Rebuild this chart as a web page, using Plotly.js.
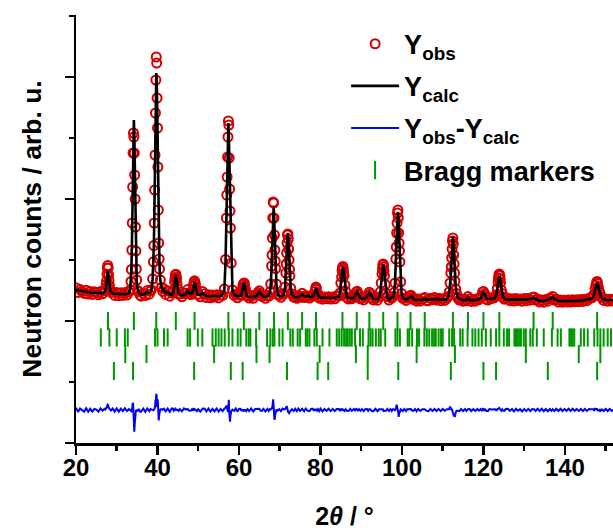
<!DOCTYPE html>
<html>
<head>
<meta charset="utf-8">
<script src="https://cdn.plot.ly/plotly-3.0.1.min.js"></script>
<style>
  html, body { margin: 0; padding: 0; background: #ffffff; }
  #chart { width: 613px; height: 530px; }
</style>
</head>
<body>
<div id="chart"></div>
<script>
// Scattering angle 2θ (degrees); finer steps across the reflections
const twoTheta = [
  20, 20.5, 21, 21.5, 22, 22.5, 23, 23.5, 24, 24.5, 25, 25.5, 26, 26.5,
  27.0, 27.2, 27.4, 27.5, 27.6, 27.7, 27.8, 27.9, 28.0, 28.1, 28.2, 28.4, 28.6,
  29.0, 29.5, 30.0, 30.5, 31.0, 31.5, 32.0, 32.5,
  33.0, 33.3, 33.5, 33.6, 33.7, 33.8, 33.9, 34.0, 34.1, 34.2, 34.3, 34.4, 34.5, 34.6, 34.7, 34.8, 34.9, 35.1, 35.4, 35.7,
  36.0, 36.5, 37.0, 37.5, 38.0, 38.3,
  38.5, 38.8, 39.0, 39.1, 39.2, 39.3, 39.4, 39.5, 39.6, 39.7, 39.8, 39.9, 40.0, 40.1, 40.2, 40.3, 40.4, 40.5, 40.7, 41.0, 41.3,
  41.6, 42.0, 42.5, 43.0, 43.5,
  43.8, 44.0, 44.2, 44.3, 44.4, 44.5, 44.6, 44.7, 44.8, 45.0, 45.2, 45.5,
  46.0, 46.5, 47.0, 47.4, 47.8, 48.2,
  48.5, 48.7, 48.8, 48.9, 49.0, 49.1, 49.2, 49.3, 49.4, 49.5, 49.7, 50.0,
  50.5, 51.1, 51.6, 52.0, 52.5, 53.0, 53.5, 54.0, 54.5, 55.0, 55.5, 56.0,
  56.4, 56.7, 56.9, 57.0, 57.1, 57.2, 57.3, 57.4, 57.5, 57.6, 57.7, 57.8, 57.9, 58.1, 58.4, 58.8,
  59.2, 59.6, 60.0,
  60.4, 60.6, 60.8, 60.9, 61.0, 61.1, 61.2, 61.3, 61.4, 61.5, 61.6, 61.8, 62.1,
  62.5, 63.0, 63.5, 64.0,
  64.4, 64.7, 65.0, 65.3, 65.6,
  66.0, 66.5, 67.0, 67.3,
  67.6, 67.8, 68.0, 68.1, 68.2, 68.3, 68.4, 68.5, 68.6, 68.7, 68.8, 68.9, 69.0, 69.2, 69.5, 69.9,
  70.3, 70.7,
  71.0, 71.3, 71.5, 71.6, 71.7, 71.8, 71.9, 72.0, 72.1, 72.2, 72.3, 72.4, 72.5, 72.7, 73.0, 73.4,
  73.8, 74.2, 74.6, 75.0, 75.5, 76.0, 76.4, 76.9, 77.3, 77.7,
  78.1, 78.4, 78.6, 78.8, 78.9, 79.0, 79.2, 79.4, 79.7,
  80.0, 80.5, 81.0, 81.5, 82.0, 82.5, 83.0, 83.5, 84.0,
  84.5, 84.8, 85.0, 85.2, 85.3, 85.4, 85.5, 85.6, 85.7, 85.8, 86.0, 86.2, 86.5,
  86.9, 87.3, 87.7,
  88.2, 88.5, 88.8, 89.0, 89.2, 89.5, 89.8,
  90.2, 90.6, 91.0,
  91.4, 91.7, 92.0, 92.3, 92.6,
  93.0, 93.5, 94.0, 94.4,
  94.7, 94.9, 95.1, 95.2, 95.3, 95.4, 95.5, 95.6, 95.7, 95.9, 96.1, 96.4,
  96.8, 97.2, 97.5,
  97.8, 98.1, 98.3, 98.5, 98.6, 98.7, 98.8, 98.9, 99.0, 99.1, 99.2, 99.3, 99.4, 99.5, 99.7, 99.9, 100.2,
  100.6, 101.0, 101.3,
  101.6, 101.9, 102.2, 102.5, 102.8,
  103.2, 103.6, 104.0, 104.5, 105.0,
  105.6, 106.1,
  106.5, 107.0, 107.5, 108.0, 108.5, 109.0, 109.5, 110.0, 110.5, 111.0,
  111.3, 111.6, 111.8, 112.0, 112.1, 112.2, 112.3, 112.4, 112.5, 112.6, 112.7, 112.8, 112.9, 113.0, 113.2, 113.4, 113.7, 114.1,
  114.5, 115.0, 115.5, 115.8, 116.2, 116.6, 117.0, 117.5, 118.0, 118.5, 118.9,
  119.3, 119.6, 119.8, 120.0, 120.2, 120.4, 120.7,
  121.1, 121.5, 122.0, 122.4,
  122.7, 123.0, 123.2, 123.4, 123.6, 123.7, 123.8, 123.9, 124.0, 124.1, 124.2, 124.4, 124.6, 124.8, 125.1, 125.5,
  126.0, 126.5, 127.0, 127.5, 128.0, 128.5, 129.0, 129.5, 130.0, 130.5, 131.0, 131.5, 132.0, 132.4, 132.8, 133.3, 133.8, 134.3, 134.8, 135.3, 135.8, 136.3, 136.7, 137.0, 137.4, 137.9, 138.4, 138.9, 139.4, 139.9, 140.4, 140.9, 141.4, 141.9, 142.4, 142.9, 143.4, 143.9, 144.4, 144.9, 145.4, 145.9, 146.3,
  146.7, 147.0, 147.2, 147.4, 147.6, 147.8, 147.9, 148.0, 148.2, 148.4, 148.6, 148.8, 149.1, 149.5,
  150.0, 150.5, 151.0, 151.5, 152.0
];

// Calculated profile (arb. u.)
const yCalc = [
  1530, 1525, 1520, 1516, 1513, 1510, 1507, 1504, 1502, 1501, 1500, 1499, 1498, 1499,
  1511, 1525, 1569, 1609, 1657, 1701, 1721, 1701, 1657, 1609, 1569, 1525, 1511,
  1494, 1492, 1490, 1489, 1488, 1487, 1487, 1491,
  1502, 1537, 1625, 1747, 1921, 2183, 2497, 2829, 3117, 3230, 3117, 2829, 2497, 2183, 1921, 1747, 1625, 1537, 1502, 1493,
  1484, 1483, 1492, 1510, 1500, 1510,
  1525, 1636, 1815, 1970, 2194, 2506, 2863, 3197, 3532, 3699, 3654, 3420, 3041, 2684, 2350, 2104, 1904, 1770, 1625, 1547, 1513,
  1529, 1499, 1508, 1486, 1482,
  1499, 1532, 1597, 1633, 1667, 1680, 1667, 1633, 1597, 1532, 1499, 1485,
  1475, 1478, 1494, 1524, 1500, 1490,
  1496, 1529, 1555, 1580, 1603, 1612, 1603, 1580, 1555, 1529, 1496, 1480,
  1478, 1500, 1480, 1470, 1468, 1467, 1470, 1474, 1468, 1466, 1470, 1487,
  1526, 1812, 2211, 2437, 2645, 2870, 3079, 3200, 3079, 2870, 2645, 2437, 2211, 1812, 1526, 1484,
  1472, 1468, 1470,
  1470, 1486, 1525, 1550, 1574, 1594, 1602, 1594, 1574, 1550, 1525, 1486, 1464,
  1460, 1460, 1462, 1468,
  1472, 1495, 1510, 1495, 1475,
  1462, 1462, 1468, 1475,
  1503, 1584, 1755, 1863, 2016, 2178, 2304, 2358, 2304, 2178, 2016, 1863, 1755, 1584, 1490, 1470,
  1468, 1478,
  1482, 1553, 1682, 1759, 1862, 1972, 2062, 2101, 2062, 1972, 1862, 1759, 1682, 1553, 1482, 1470,
  1458, 1458, 1460, 1470, 1485, 1468, 1462, 1475, 1462, 1462,
  1458, 1480, 1505, 1543, 1550, 1543, 1505, 1480, 1458,
  1452, 1452, 1451, 1452, 1451, 1450, 1450, 1452, 1460,
  1461, 1508, 1587, 1666, 1710, 1747, 1760, 1747, 1710, 1666, 1587, 1508, 1461,
  1450, 1448, 1452,
  1450, 1470, 1500, 1512, 1500, 1470, 1450,
  1442, 1442, 1448,
  1462, 1485, 1499, 1485, 1460,
  1442, 1438, 1440, 1453,
  1505, 1593, 1680, 1729, 1771, 1785, 1771, 1729, 1680, 1593, 1505, 1453,
  1440, 1445, 1458,
  1456, 1500, 1606, 1826, 1932, 2046, 2169, 2275, 2310, 2275, 2169, 2046, 1932, 1826, 1606, 1500, 1456,
  1440, 1436, 1440,
  1445, 1460, 1468, 1460, 1442,
  1432, 1430, 1430, 1430, 1436,
  1446, 1432,
  1434, 1438, 1442, 1444, 1440, 1436, 1434, 1432, 1434, 1440,
  1457, 1502, 1566, 1681, 1758, 1847, 1937, 2027, 2065, 2027, 1937, 1847, 1758, 1681, 1566, 1502, 1457, 1441,
  1432, 1428, 1428, 1432, 1455, 1432, 1426, 1426, 1428, 1432, 1440,
  1450, 1480, 1497, 1505, 1497, 1480, 1450,
  1440, 1442, 1440, 1445,
  1447, 1464, 1490, 1538, 1598, 1634, 1660, 1670, 1660, 1634, 1598, 1538, 1490, 1464, 1447, 1437,
  1434, 1432, 1432, 1434, 1434, 1433, 1432, 1432, 1433, 1434, 1436, 1438, 1445, 1452, 1440, 1428, 1420, 1418, 1420, 1424, 1430, 1438, 1450, 1458, 1440, 1426, 1420, 1418, 1418, 1418, 1418, 1418, 1420, 1420, 1420, 1422, 1422, 1424, 1426, 1428, 1432, 1438, 1440,
  1448, 1470, 1493, 1528, 1565, 1598, 1605, 1598, 1565, 1528, 1493, 1470, 1448, 1436,
  1430, 1428, 1428, 1430, 1430
];

// Observed counts (arb. u.)
const yObs = [
  1552, 1506, 1536, 1514, 1496, 1528, 1490, 1516, 1486, 1512, 1504, 1482, 1514, 1492,
  1522, 1530, 1585, 1622, 1688, 1750, 1775, 1750, 1680, 1625, 1578, 1532, 1506,
  1510, 1476, 1506, 1472, 1502, 1476, 1504, 1480,
  1510, 1530, 1615, 1735, 1930, 2200, 2560, 2900, 3100, 3060, 2900, 2680, 2440, 2160, 1920, 1740, 1630, 1525, 1512, 1478,
  1468, 1498, 1474, 1524, 1488, 1520,
  1532, 1642, 1812, 1975, 2200, 2530, 2880, 3300, 3630, 3860, 3800, 3450, 3150, 2760, 2330, 2000, 1840, 1740, 1630, 1556, 1516,
  1542, 1486, 1522, 1468, 1498,
  1512, 1525, 1610, 1645, 1680, 1688, 1660, 1640, 1590, 1540, 1490, 1492,
  1462, 1494, 1498, 1534, 1492, 1484,
  1507, 1520, 1566, 1590, 1615, 1622, 1598, 1588, 1545, 1535, 1486, 1488,
  1462, 1514, 1492, 1455, 1483, 1452, 1481, 1460, 1483, 1451, 1480, 1476,
  1540, 1835, 2250, 2480, 2660, 2860, 3060, 3220, 3180, 2850, 2540, 2320, 2150, 1800, 1530, 1476,
  1488, 1452, 1480,
  1482, 1476, 1532, 1545, 1580, 1588, 1595, 1600, 1565, 1540, 1530, 1476, 1472,
  1449, 1475, 1447, 1478,
  1484, 1505, 1522, 1488, 1466,
  1473, 1447, 1478, 1466,
  1512, 1590, 1770, 1880, 2050, 2250, 2410, 2400, 2250, 2080, 1930, 1820, 1745, 1590, 1484, 1478,
  1457, 1492,
  1490, 1560, 1700, 1790, 1900, 2000, 2080, 2090, 2040, 1940, 1830, 1735, 1672, 1548, 1490, 1460,
  1470, 1447, 1475, 1460, 1497, 1455, 1476, 1466, 1450, 1472,
  1470, 1472, 1515, 1538, 1560, 1545, 1498, 1488, 1448,
  1465, 1438, 1461, 1443, 1463, 1439, 1461, 1442, 1470,
  1470, 1500, 1600, 1660, 1725, 1750, 1765, 1740, 1700, 1672, 1580, 1515, 1453,
  1440, 1459, 1443,
  1460, 1465, 1510, 1518, 1495, 1478, 1442,
  1452, 1431, 1457,
  1472, 1478, 1508, 1490, 1450,
  1430, 1450, 1428, 1460,
  1512, 1600, 1690, 1740, 1780, 1790, 1760, 1720, 1672, 1585, 1498, 1464,
  1430, 1454, 1448,
  1465, 1505, 1600, 1840, 1960, 2100, 2200, 2300, 2330, 2250, 2100, 2000, 1920, 1810, 1612, 1495, 1446,
  1450, 1426, 1448,
  1454, 1470, 1478, 1455, 1434,
  1442, 1418, 1440, 1420, 1444,
  1454, 1423,
  1423, 1448, 1433, 1454, 1430, 1447, 1423, 1442, 1426, 1447,
  1465, 1510, 1600, 1700, 1760, 1850, 1940, 2020, 2050, 1990, 1880, 1790, 1700, 1620, 1540, 1495, 1450, 1430,
  1442, 1418, 1438, 1423, 1464, 1442, 1416, 1434, 1418, 1442, 1433,
  1458, 1475, 1510, 1515, 1490, 1485, 1440,
  1430, 1452, 1444, 1454,
  1455, 1470, 1482, 1545, 1610, 1650, 1680, 1690, 1672, 1640, 1605, 1530, 1496, 1458, 1438, 1447,
  1447, 1423, 1442, 1420, 1446, 1426, 1440, 1418, 1444, 1423, 1447, 1428, 1454, 1460, 1430, 1440, 1410, 1430, 1408, 1434, 1418, 1448, 1442, 1466, 1430, 1438, 1410, 1430, 1408, 1428, 1410, 1430, 1410, 1432, 1412, 1432, 1413, 1434, 1416, 1438, 1423, 1447, 1448,
  1455, 1478, 1485, 1540, 1575, 1610, 1615, 1595, 1558, 1520, 1500, 1462, 1454, 1426,
  1440, 1418, 1438, 1420, 1436
];

// Reflection positions (2θ) for the four phases
const braggPhase1 = [27.85, 34.2, 39.7, 44.5, 49.1, 57.4, 61.2, 65.0, 68.6, 72.0, 75.5, 78.9, 85.4, 88.9, 92.0, 95.4, 98.9, 102.1, 105.6, 112.5, 116.2, 120.0, 123.9, 132.3, 137.0, 147.9];
const braggPhase2 = [26.1, 28.2, 30.0, 32.0, 32.7, 39.4, 40.0, 41.6, 42.5, 47.4, 48.0, 49.9, 51.0, 53.5, 54.3, 55.0, 55.7, 56.5, 57.5, 58.4, 59.7, 60.4, 61.8, 62.4, 62.8, 64.2, 66.9, 67.7, 68.3, 68.7, 69.9, 70.7, 72.6, 73.2, 74.4, 75.0, 76.4, 76.8, 77.3, 78.5, 79.1, 80.5, 82.2, 84.0, 84.6, 85.2, 85.8, 86.3, 86.7, 87.2, 87.7, 88.5, 89.7, 90.4, 91.8, 92.3, 92.8, 93.6, 94.3, 94.8, 95.9, 98.4, 98.9, 99.5, 101.4, 101.8, 102.5, 103.7, 104.2, 105.5, 106.1, 106.7, 107.4, 107.9, 108.3, 109.0, 109.6, 110.0, 111.6, 112.3, 112.8, 114.3, 114.9, 116.1, 117.3, 118.0, 118.8, 119.6, 120.6, 121.8, 123.1, 123.9, 125.0, 125.8, 126.3, 127.6, 128.0, 128.4, 128.8, 129.2, 129.9, 130.4, 131.5, 132.1, 133.1, 134.8, 136.8, 138.2, 139.0, 141.1, 141.5, 141.9, 142.3, 143.9, 144.7, 145.6, 147.2, 148.0, 148.7, 149.5, 150.5, 151.3];
const braggPhase3 = [32.1, 37.3, 53.9, 64.3, 67.5, 79.8, 88.7, 91.6, 103.6, 113.0, 130.4, 143.4, 148.7];
const braggPhase4 = [29.3, 34.0, 49.0, 58.0, 60.9, 71.8, 79.3, 81.9, 91.6, 99.1, 112.0, 120.0, 123.1, 135.8, 147.9];

// Vertical placement of the marker rows and of the difference curve
const braggRowLevel = [1220, 1055, 890, 720];
const diffOffset = 330;

const phases = [braggPhase1, braggPhase2, braggPhase3, braggPhase4];
const braggX = [];
const braggY = [];
phases.forEach((list, i) => {
  list.forEach(t => { braggX.push(t); braggY.push(braggRowLevel[i]); });
});

const yDiff = twoTheta.map((_, i) => yObs[i] - yCalc[i] + diffOffset);

const FONT = 'Liberation Sans, Arial, Helvetica, sans-serif';
const RED = '#d40000';
const GREEN = '#009600';

const traces = [
  {
    x: twoTheta, y: yObs, name: 'Y<sub>obs</sub>', type: 'scatter', mode: 'markers',
    legendgroup: 'a',
    marker: { symbol: 'circle-open', size: 9, color: RED, line: { width: 2, color: RED } }
  },
  {
    x: twoTheta, y: yCalc, name: 'Y<sub>calc</sub>', type: 'scatter', mode: 'lines',
    legendgroup: 'b',
    line: { color: '#000000', width: 2.6 }
  },
  {
    x: twoTheta, y: yDiff, name: 'Y<sub>obs</sub>-Y<sub>calc</sub>', type: 'scatter', mode: 'lines',
    legendgroup: 'c',
    line: { color: '#0000ff', width: 2 }
  },
  {
    x: braggX, y: braggY, name: 'Bragg markers', type: 'scatter', mode: 'markers',
    legendgroup: 'd',
    marker: { symbol: 'line-ns', size: 13, color: GREEN, line: { color: GREEN, width: 2 } }
  }
];

const layout = {
  width: 613, height: 530,
  margin: { l: 76, r: 0, t: 15, b: 87, pad: 0, autoexpand: false },
  paper_bgcolor: '#ffffff', plot_bgcolor: '#ffffff',
  font: { family: FONT, color: '#000000', size: 24, weight: 'bold' },
  showlegend: true,
  legend: {
    x: 0.503, y: 0.989, xanchor: 'left', yanchor: 'top',
    bgcolor: 'rgba(0,0,0,0)', borderwidth: 0,
    itemwidth: 48, traceorder: 'grouped', tracegroupgap: 4,
    font: { family: FONT, size: 27, weight: 'bold', color: '#000000' }
  },
  xaxis: {
    range: [20, 151.8], dtick: 20, tick0: 20, automargin: false,
    showline: true, linecolor: '#000000', linewidth: 2.5,
    ticks: 'outside', ticklen: 9, tickwidth: 2.5, tickcolor: '#000000',
    minor: { dtick: 10, ticks: 'outside', ticklen: 5, tickwidth: 2.5, tickcolor: '#000000' },
    showgrid: false, zeroline: false, ticklabelstandoff: -7,
    tickfont: { family: FONT, size: 24, weight: 'bold' },
    title: { text: '2<i>θ</i> / °', font: { family: FONT, size: 25, weight: 'bold' } }
  },
  yaxis: {
    range: [0, 4280], dtick: 1220, tick0: 0, automargin: true,
    showline: true, linecolor: '#000000', linewidth: 2.5,
    ticks: 'outside', ticklen: 9, tickwidth: 2.5, tickcolor: '#000000',
    minor: { dtick: 610, ticks: 'outside', ticklen: 5, tickwidth: 2.5, tickcolor: '#000000' },
    showticklabels: false, showgrid: false, zeroline: false,
    title: { text: 'Neutron counts / arb. u.', font: { family: FONT, size: 26.5, weight: 'bold' }, standoff: 15 }
  }
};

Plotly.newPlot('chart', traces, layout, { displayModeBar: false, staticPlot: true });
</script>
</body>
</html>
